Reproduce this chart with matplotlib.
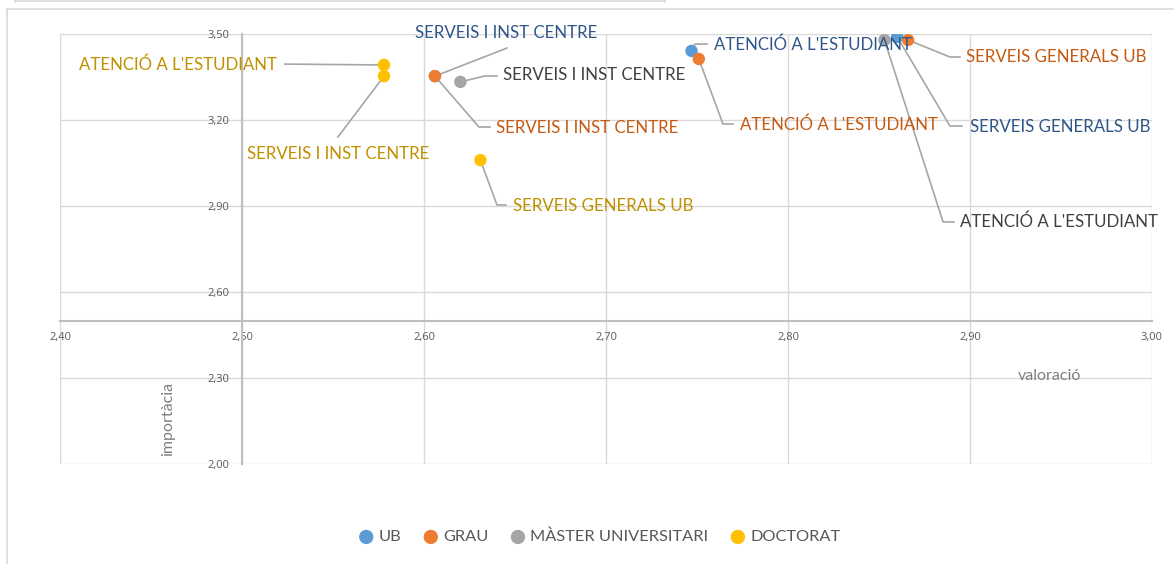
import numpy as np
import matplotlib.pyplot as plt
from matplotlib.lines import Line2D
from matplotlib.ticker import FuncFormatter

plt.rcParams['font.family'] = ['Lato', 'DejaVu Sans']

# dades: valoració (x) i importància (y) per col·lectiu
series = ['UB', 'GRAU', 'MÀSTER UNIVERSITARI', 'DOCTORAT']
colors = ['#5B9BD5', '#ED7D31', '#A5A5A5', '#FFC000']
text_colors = ['#2F5688', '#C55A11', '#404040', '#BF9000']

ub_x = [2.606, 2.747, 2.860]
ub_y = [3.353, 3.441, 3.490]
ub_lab = ['SERVEIS I INST CENTRE', "ATENCIÓ A L'ESTUDIANT", 'SERVEIS GENERALS UB']

grau_x = [2.606, 2.751, 2.866]
grau_y = [3.353, 3.413, 3.479]
grau_lab = ['SERVEIS I INST CENTRE', "ATENCIÓ A L'ESTUDIANT", 'SERVEIS GENERALS UB']

master_x = [2.620, 2.853]
master_y = [3.333, 3.479]
master_lab = ['SERVEIS I INST CENTRE', "ATENCIÓ A L'ESTUDIANT"]

doc_x = [2.578, 2.578, 2.631]
doc_y = [3.392, 3.353, 3.060]
doc_lab = ["ATENCIÓ A L'ESTUDIANT", 'SERVEIS I INST CENTRE', 'SERVEIS GENERALS UB']

xs = [ub_x, grau_x, master_x, doc_x]
ys = [ub_y, grau_y, master_y, doc_y]
labs = [ub_lab, grau_lab, master_lab, doc_lab]

# posició de les etiquetes: (x, y, ha, va) i colze de la línia guia
label_pos = [
    [(2.645, 3.503, 'center', 'center', [(2.6456, 3.451)]),
     (2.7593, 3.4616, 'left', 'center', [(2.7489, 3.465), (2.7555, 3.465)]),
     (2.900, 3.1756, 'left', 'center', [(2.889, 3.179), (2.8956, 3.179)])],
    [(2.6396, 3.172, 'left', 'center', [(2.6302, 3.1756), (2.6363, 3.1756)]),
     (2.7736, 3.1826, 'left', 'center', [(2.7643, 3.186), (2.7698, 3.186)]),
     (2.8978, 3.4198, 'left', 'center', [(2.889, 3.4198), (2.8945, 3.4198)])],
    [(2.6434, 3.357, 'left', 'center', [(2.6335, 3.3535), (2.6401, 3.3535)]),
     (2.8945, 2.8442, 'left', 'center', [(2.8852, 2.8442), (2.8912, 2.8442)])],
    [(2.5192, 3.392, 'right', 'center', [(2.5236, 3.395)]),
     (2.5527, 3.0814, 'center', 'center', [(2.5527, 3.1407)]),
     (2.6489, 2.900, 'left', 'center', [(2.6401, 2.9035), (2.645, 2.9035)])],
]

fig = plt.figure(figsize=(11.74, 5.64), dpi=100)
ax = fig.add_axes([60/1174, 1-464/564, 1092/1174, 430/564])

ax.set_xlim(2.40, 3.00)
ax.set_ylim(2.00, 3.50)
ax.set_xticks(np.arange(2.40, 3.001, 0.10))
ax.set_yticks(np.arange(2.00, 3.501, 0.30))
fmt = FuncFormatter(lambda v, p: '{:.2f}'.format(v).replace('.', ','))
ax.xaxis.set_major_formatter(fmt)
ax.yaxis.set_major_formatter(fmt)
ax.grid(True, color='#D9D9D9', lw=1)
ax.set_axisbelow(True)
for s in ['top', 'right']:
    ax.spines[s].set_visible(False)
ax.spines['left'].set_position(('data', 2.5))
ax.spines['bottom'].set_position(('data', 2.5))
for s in ['left', 'bottom']:
    ax.spines[s].set_color('#BFBFBF')
    ax.spines[s].set_linewidth(1.5)
ax.tick_params(axis='both', length=0, labelsize=8, labelcolor='#595959')
ax.tick_params(axis='y', pad=9)
ax.tick_params(axis='x', pad=8)
for t in ax.get_xticklabels() + ax.get_yticklabels():
    t.set_fontfamily(['Open Sans', 'DejaVu Sans'])

# línies guia i etiquetes
for i in range(len(series)):
    for j in range(len(xs[i])):
        lx, ly, ha, va, elbow = label_pos[i][j]
        px = [xs[i][j]] + [e[0] for e in elbow]
        py = [ys[i][j]] + [e[1] for e in elbow]
        ax.plot(px, py, color='#A6A6A6', lw=1.2, zorder=2)
        ax.text(lx, ly, labs[i][j], ha=ha, va=va, fontsize=12.2,
                color=text_colors[i], zorder=5)

for i in range(len(series)):
    ax.scatter(xs[i], ys[i], s=80, color=colors[i], label=series[i],
               zorder=4, edgecolors='none')

ax.text(2.4593, 2.158, 'importàcia', rotation=90, ha='center', va='center',
        fontsize=11.5, color='#7F7F7F')
ax.text(2.9435, 2.308, 'valoració', ha='center', va='center',
        fontsize=11.5, color='#7F7F7F')

fig.legend(loc='center', bbox_to_anchor=(600/1174, 1-537/564), ncol=4,
           frameon=False, fontsize=11.8, labelcolor='#595959',
           handlelength=0.8, handletextpad=0.35,
           columnspacing=1.4, markerscale=1.15)

# marcs exteriors
W, H = 1174, 564
def fline(x0, y0, x1, y1):
    fig.add_artist(Line2D([x0/W, x1/W], [1-y0/H, 1-y1/H], color='#D9D9D9', lw=1.2))
fline(7, 9, 7, 564)
fline(7, 9, 1174, 9)
fline(15, 1, 665, 1)
fline(665, 0, 665, 2)
fline(15, 0, 15, 2)

fig.savefig('out.png', dpi=100)
